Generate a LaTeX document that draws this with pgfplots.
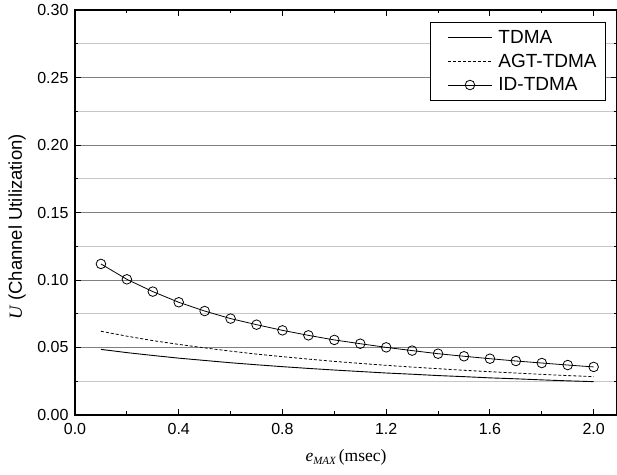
\documentclass[border=0pt]{standalone}
\usepackage{fontspec}
\setmainfont{Liberation Sans}
\newfontfamily\timesf{Liberation Serif}
\usepackage{pgfplots}
\pgfplotsset{compat=1.18}
\usetikzlibrary{calc}
\begin{document}
\begin{tikzpicture}
\begin{axis}[
  name=ax,
  scale only axis,
  width=542pt, height=405pt,
  xmin=0, xmax=2.09, ymin=0, ymax=0.30,
  xtick={0,0.4,0.8,1.2,1.6,2.0},
  ytick={0,0.05,0.10,0.15,0.20,0.25,0.30},
  minor x tick num=1,
  minor y tick num=1,
  tick align=inside,
  major tick length=6pt,
  minor tick length=3.5pt,
  every tick/.style={black, line width=0.9pt},
  axis line style={line width=1.5pt},
  ymajorgrids, yminorgrids,
  major grid style={color=black!50, line width=0.8pt},
  minor grid style={color=black!22, line width=0.8pt},
  /pgf/number format/assume math mode=true,
  xticklabel style={/pgf/number format/fixed, /pgf/number format/fixed zerofill, /pgf/number format/precision=1, yshift=-5pt},
  yticklabel style={/pgf/number format/fixed, /pgf/number format/fixed zerofill, /pgf/number format/precision=2, xshift=-3pt},
  tick label style={font=\fontsize{16}{19}\selectfont},
  every axis y label/.style={at={(axis description cs:-0.107,0.465)}, rotate=90, anchor=center},
  every axis x label/.style={at={(axis description cs:0.5,-0.105)}, anchor=center},
  ylabel={\fontsize{18.5}{20}\selectfont{\timesf\itshape U} (Channel Utilization)},
  xlabel={\timesf\fontsize{17.5}{20}\selectfont\itshape e\raisebox{-0.35ex}{\fontsize{11}{12}\selectfont MAX}\upshape\,(msec)},
  legend style={at={(1,1)}, anchor=north east, xshift=-11pt, yshift=-12pt,
    draw=black, line width=0.8pt, fill=white, inner xsep=7pt, inner ysep=6pt,
    font=\fontsize{19}{21}\selectfont, row sep=5pt},
  legend cell align=left,
  legend image code/.code={\path (0pt,0pt) (58pt,0pt); \draw[mark repeat=2,mark phase=2,#1] plot coordinates {(10pt,0pt) (32pt,0pt) (54pt,0pt)};},
]
\addplot[black, line width=0.9pt] coordinates {
(0.1,0.0486) (0.2,0.0462) (0.3,0.0441) (0.4,0.0421) (0.5,0.0404) (0.6,0.0387) (0.7,0.0372) (0.8,0.0358) (0.9,0.0345) (1.0,0.0333) (1.1,0.0322) (1.2,0.0311) (1.3,0.0302) (1.4,0.0292) (1.5,0.0284) (1.6,0.0275) (1.7,0.0268) (1.8,0.0260) (1.9,0.0253) (2.0,0.0247)};
\addlegendentry{TDMA}
\addplot[black, line width=0.8pt, dash pattern=on 3pt off 2pt] coordinates {
(0.1,0.0620) (0.2,0.0584) (0.3,0.0551) (0.4,0.0523) (0.5,0.0497) (0.6,0.0473) (0.7,0.0451) (0.8,0.0432) (0.9,0.0414) (1.0,0.0397) (1.1,0.0382) (1.2,0.0368) (1.3,0.0355) (1.4,0.0343) (1.5,0.0331) (1.6,0.0321) (1.7,0.0311) (1.8,0.0301) (1.9,0.0292) (2.0,0.0284)};
\addlegendentry{AGT-TDMA}
\addplot[black, line width=0.8pt, mark=o, mark size=4.8pt, mark options={fill=white, solid, line width=0.8pt}] coordinates {
(0.1,0.1119) (0.2,0.1005) (0.3,0.0914) (0.4,0.0835) (0.5,0.0770) (0.6,0.0714) (0.7,0.0669) (0.8,0.0627) (0.9,0.0590) (1.0,0.0556) (1.1,0.0528) (1.2,0.0501) (1.3,0.0477) (1.4,0.0454) (1.5,0.0435) (1.6,0.0417) (1.7,0.0400) (1.8,0.0385) (1.9,0.0370) (2.0,0.0356)};
\addlegendentry{ID-TDMA}
\end{axis}
\pgfresetboundingbox
\path ($(ax.south west)+(-75pt,-60pt)$) rectangle ($(ax.north east)+(0pt,10pt)$);
\end{tikzpicture}
\end{document}
